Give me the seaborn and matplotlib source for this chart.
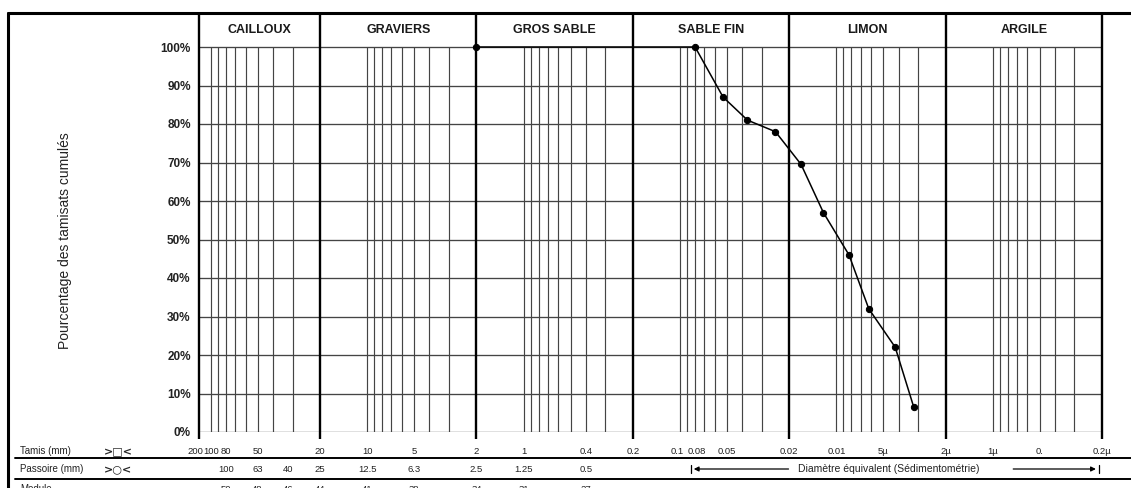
import numpy as np
import matplotlib
matplotlib.use("Agg")
import matplotlib.pyplot as plt
import matplotlib.transforms as mtransforms
from matplotlib.lines import Line2D
from matplotlib.ticker import NullLocator
import seaborn as sns

# grain size curve (diameter in mm, cumulative % passing)
diam_mm = [2, 0.08, 0.053, 0.037, 0.0245, 0.0168, 0.0121, 0.0083, 0.0062, 0.0042, 0.0032]
pct = [100, 100, 87, 81, 78, 69.5, 57, 46, 32, 22, 6.5]

# sieve (tamis) ticks
tamis_pos = [119, 100, 80, 50, 20, 10, 5, 2, 1, 0.4, 0.2, 0.1, 0.08, 0.05,
             0.02, 0.01, 0.005, 0.002, 0.001, 0.0005, 0.0002]
tamis_lab = ["200", "100", "80", "50", "20", "10", "5", "2", "1", "0.4", "0.2",
             "0.1", "0.08", "0.05", "0.02", "0.01", "5µ", "2µ", "1µ", "0.", "0.2µ"]
# passoire values and module numbers (aligned under equivalent sieves)
passoire = [100, 63, 40, 25, 12.5, 6.3, 2.5, 1.25, 0.5]
passoire_lab = ["100", "63", "40", "25", "12.5", "6.3", "2.5", "1.25", "0.5"]
module_lab = ["50", "48", "46", "44", "41", "38", "34", "31", "27"]

# soil classes and their boundaries
classes = ["CAILLOUX", "GRAVIERS", "GROS SABLE", "SABLE FIN", "LIMON", "ARGILE"]
bounds = [119, 20, 2, 0.2, 0.02, 0.002, 0.0002]
pct_ticks = list(range(0, 101, 10))

sns.set_theme(style="white")
plt.rcParams['font.family'] = ['Liberation Sans', 'DejaVu Sans']

W, H = 1131, 488
fig = plt.figure(figsize=(W / 100, H / 100), dpi=100)

def fx(x):
    return x / W

def fy(y):
    return 1 - y / H

top_y = 15
ax = fig.add_axes([fx(199), fy(432), fx(1102) - fx(199), fy(top_y) - fy(432)])
ax.set_xscale("log")
ax.set_xlim(bounds[0], bounds[-1])
ytop = 100 + (47 - top_y) / 3.85
ax.set_ylim(0, ytop)
for s in ax.spines.values():
    s.set_visible(False)

grid_c = "#444444"
# thin vertical lines inside each class: k*10^n, k=3..10
for lo in bounds[1:]:
    base = lo / 2
    for k in range(3, 11):
        v = k * base
        if v < bounds[0]:
            ax.vlines(v, 0, 100, color=grid_c, lw=0.85, zorder=1)
# horizontal lines every 10%
ax.hlines(pct_ticks, bounds[0], bounds[-1], color=grid_c, lw=0.95, zorder=1)
# bold class boundaries
ax.vlines(bounds, -1.8, ytop, color="black", lw=1.7, zorder=2, clip_on=False)

for name, a, b in zip(classes, bounds[:-1], bounds[1:]):
    ax.text(np.sqrt(a * b), 104.3, name, ha="center", va="center",
            fontsize=9, fontweight="bold", color="#1a1a1a")

sns.lineplot(x=diam_mm, y=pct, ax=ax, color="black", lw=1.1, marker="o",
             markersize=4.5, markeredgecolor="black", zorder=5)

ax.set_yticks(pct_ticks)
ax.set_yticklabels([f"{v}%" for v in pct_ticks], fontsize=8.5, fontweight="bold",
                   color="#222222")
ax.set_xticks(tamis_pos)
ax.set_xticklabels(tamis_lab, fontsize=6.8, color="#222222")
ax.xaxis.set_minor_locator(NullLocator())
ax.tick_params(axis="y", length=0, pad=6)
ax.tick_params(axis="x", length=0, pad=11)

# nudge crowded labels apart ("200"/"100" and "0.1"/"0.08")
def nudge(lbl, dx_px):
    lbl.set_transform(lbl.get_transform() +
                      mtransforms.ScaledTranslation(dx_px / 100, 0, fig.dpi_scale_trans))

xt = ax.get_xticklabels()
nudge(xt[0], -4)
nudge(xt[tamis_lab.index("0.1")], -3)
nudge(xt[tamis_lab.index("0.08")], 2)

ax.set_ylabel("Pourcentage des tamisats cumulés", fontsize=10, color="#222222",
              labelpad=0)
ax.yaxis.set_label_coords(fx(72 - 199) / (fx(1102) - fx(199)), 0.458)

# bottom table rows
trans = mtransforms.blended_transform_factory(ax.transData, fig.transFigure)
for v, p, m in zip(passoire, passoire_lab, module_lab):
    ax.text(v / 1.25, fy(469), p, transform=trans, ha="center", va="center",
            fontsize=6.8, color="#222222")
    ax.text(v / 1.25, fy(489), m, transform=trans, ha="center", va="center",
            fontsize=6.8, color="#222222")

fig.text(fx(20), fy(451), "Tamis (mm)", ha="left", va="center", fontsize=7, color="#222222")
fig.text(fx(20), fy(469), "Passoire (mm)", ha="left", va="center", fontsize=7, color="#222222")
fig.text(fx(20), fy(489), "Module", ha="left", va="center", fontsize=7, color="#222222")
fig.text(fx(118), fy(451), ">□<", ha="center", va="center", fontsize=8,
         fontweight="bold", family=["DejaVu Sans"])
fig.text(fx(118), fy(469), ">○<", ha="center", va="center", fontsize=8,
         fontweight="bold", family=["DejaVu Sans"])

# sedimentometry arrows
ya = fy(469)
ax.annotate("", xy=(0.085, ya), xytext=(0.0194, ya), xycoords=trans, textcoords=trans,
            arrowprops=dict(arrowstyle="-|>", color="black", lw=0.9, mutation_scale=7))
ax.plot([0.085, 0.085], [ya - 0.009, ya + 0.009], transform=trans, color="black",
        lw=0.9, clip_on=False)
ax.text(0.00464, ya, "Diamètre équivalent (Sédimentométrie)", transform=trans,
        ha="center", va="center", fontsize=7.5, color="#222222")
ax.annotate("", xy=(0.00021, ya), xytext=(0.00077, ya), xycoords=trans, textcoords=trans,
            arrowprops=dict(arrowstyle="-|>", color="black", lw=0.9, mutation_scale=7))
ax.plot([0.00021, 0.00021], [ya - 0.009, ya + 0.009], transform=trans, color="black",
        lw=0.9, clip_on=False)

# outer frame and table rules
def fline(x0, y0, x1, y1, lw):
    fig.add_artist(Line2D([fx(x0), fx(x1)], [fy(y0), fy(y1)], transform=fig.transFigure,
                          color="black", lw=lw))

fline(8, 13, W, 13, 2.2)
fline(8, 13, 8, H, 2.2)
fline(15, 458, W, 458, 1.4)
fline(15, 479, W, 479, 1.4)

fig.savefig("out.png", dpi=100)
